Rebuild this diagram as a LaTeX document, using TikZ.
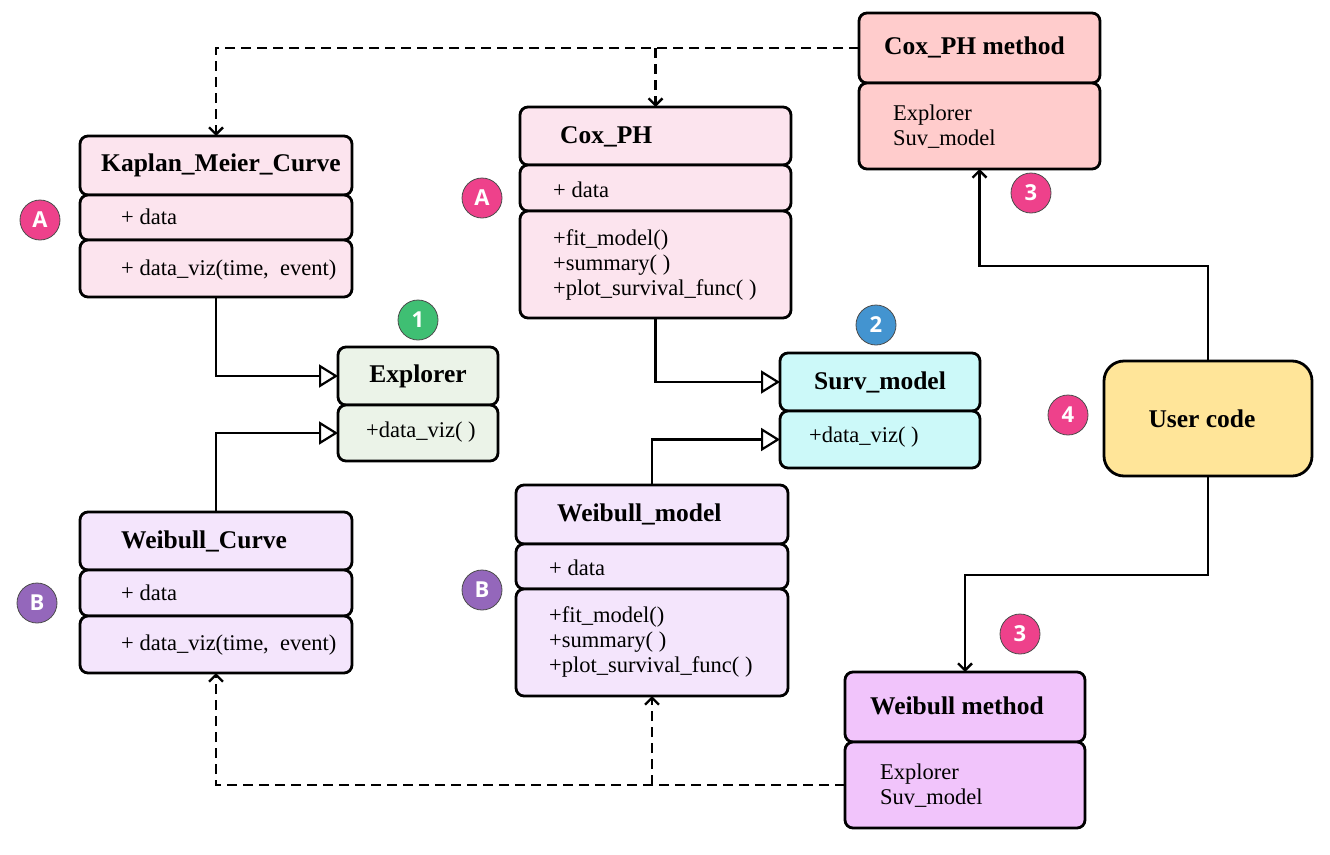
\documentclass[tikz,border=0pt]{standalone}
\usepackage{fontspec}
\setmainfont{Liberation Serif}
\newfontfamily\badgefont{Open Sans}
\usetikzlibrary{arrows.meta}
\definecolor{kmpink}{HTML}{FCE4EE}
\definecolor{coxmeth}{HTML}{FFCCCC}
\definecolor{explgreen}{HTML}{EBF3E8}
\definecolor{survcyan}{HTML}{CCF9F9}
\definecolor{useryellow}{HTML}{FFE599}
\definecolor{weilav}{HTML}{F4E5FC}
\definecolor{weimeth}{HTML}{F1C4FB}
\definecolor{bpink}{HTML}{EE418B}
\definecolor{bgreen}{HTML}{3FBF73}
\definecolor{bblue}{HTML}{4394D0}
\definecolor{bpurple}{HTML}{9467BB}
\begin{document}
\begin{tikzpicture}[x=1pt,y=-1pt,
  box/.style={draw, line width=2.8pt, rounded corners=8pt, inner sep=0pt, outer sep=0pt, anchor=north west},
  ttl/.style={anchor=west, font=\fontsize{25.5}{30}\selectfont\bfseries, inner sep=0pt},
  txt/.style={anchor=west, font=\fontsize{22.5}{25}\selectfont, align=left, inner sep=0pt},
  badge/.style={circle, draw=black!70, line width=0.8pt, minimum size=40pt, inner sep=0pt, text=white, font=\badgefont\fontsize{22}{22}\selectfont\bfseries},
  gen/.style={line width=2.8pt, -{Triangle[length=19pt,width=23pt,fill=white,line width=2.2pt]}},
  dep/.style={line width=2.8pt, dash pattern=on 10pt off 6pt, -{Straight Barb[length=7pt,width=14pt,line width=2.4pt]}},
  assoc/.style={line width=2.8pt, -{Straight Barb[length=7pt,width=14pt,line width=2.4pt]}}
]
\useasboundingbox (0,0) rectangle (1330,854);

% Kaplan_Meier_Curve
\node[box, fill=kmpink, minimum width=272pt, minimum height=59pt] (km1) at (80,136) {};
\node[box, fill=kmpink, minimum width=272pt, minimum height=45pt] (km2) at (80,195) {};
\node[box, fill=kmpink, minimum width=272pt, minimum height=57pt] (km3) at (80,240) {};
\node[ttl] (kmt) at (101,165) {Kaplan\_Meier\_Curve};
\node[txt] (kmd) at (121,217) {+ data};
\node[txt] (kmv) at (121,270) {+ data\_viz(time,\ \ event)};

% Cox_PH
\node[box, fill=kmpink, minimum width=271pt, minimum height=58pt] (cox1) at (520,107) {};
\node[box, fill=kmpink, minimum width=271pt, minimum height=46pt] (cox2) at (520,165) {};
\node[box, fill=kmpink, minimum width=271pt, minimum height=107pt] (cox3) at (520,211) {};
\node[ttl] (coxt) at (560,137) {Cox\_PH};
\node[txt] (coxd) at (553,190) {+ data};
\node[txt] (coxm) at (553,265) {+fit\_model()\\+summary(\ )\\+plot\_survival\_func(\ )};

% Cox_PH method
\node[box, fill=coxmeth, minimum width=241pt, minimum height=70pt] (cm1) at (859,13) {};
\node[box, fill=coxmeth, minimum width=241pt, minimum height=86pt] (cm2) at (859,83) {};
\node[ttl] (cmt) at (884,47) {Cox\_PH method};
\node[txt] (cmb) at (893,127) {Explorer\\Suv\_model};

% Explorer
\node[box, fill=explgreen, minimum width=160pt, minimum height=58pt] (ex1) at (338,347) {};
\node[box, fill=explgreen, minimum width=160pt, minimum height=56pt] (ex2) at (338,405) {};
\node[anchor=center, font=\fontsize{25.5}{30}\selectfont\bfseries, inner sep=0pt] (ext) at (418,376) {Explorer};
\node[txt] (exv) at (366,432) {+data\_viz(\ )};

% Surv_model
\node[box, fill=survcyan, minimum width=200pt, minimum height=58pt] (sv1) at (780,353) {};
\node[box, fill=survcyan, minimum width=200pt, minimum height=57pt] (sv2) at (780,411) {};
\node[anchor=center, font=\fontsize{25.5}{30}\selectfont\bfseries, inner sep=0pt] (svt) at (880,382) {Surv\_model};
\node[txt] (svv) at (809,437) {+data\_viz(\ )};

% User code
\node[draw, line width=2.8pt, rounded corners=20pt, fill=useryellow, minimum width=208pt, minimum height=115pt, anchor=north west, outer sep=0pt] (uc) at (1104,361) {};
\node[anchor=center, font=\fontsize{25.5}{30}\selectfont\bfseries, inner sep=0pt] (uct) at (1202,419) {User code};

% Weibull_Curve
\node[box, fill=weilav, minimum width=272pt, minimum height=58pt] (wc1) at (80,512) {};
\node[box, fill=weilav, minimum width=272pt, minimum height=46pt] (wc2) at (80,570) {};
\node[box, fill=weilav, minimum width=272pt, minimum height=57pt] (wc3) at (80,616) {};
\node[ttl] (wct) at (121,541) {Weibull\_Curve};
\node[txt] (wcd) at (121,593) {+ data};
\node[txt] (wcv) at (121,645) {+ data\_viz(time,\ \ event)};

% Weibull_model
\node[box, fill=weilav, minimum width=272pt, minimum height=59pt] (wm1) at (516,485) {};
\node[box, fill=weilav, minimum width=272pt, minimum height=45pt] (wm2) at (516,544) {};
\node[box, fill=weilav, minimum width=272pt, minimum height=107pt] (wm3) at (516,589) {};
\node[ttl] (wmt) at (557,514) {Weibull\_model};
\node[txt] (wmd) at (549,568) {+ data};
\node[txt] (wmm) at (549,642) {+fit\_model()\\+summary(\ )\\+plot\_survival\_func(\ )};

% Weibull method
\node[box, fill=weimeth, minimum width=240pt, minimum height=70pt] (wt1) at (845,672) {};
\node[box, fill=weimeth, minimum width=240pt, minimum height=86pt] (wt2) at (845,742) {};
\node[ttl] (wtt) at (870,706) {Weibull method};
\node[txt] (wtb) at (880,786) {Explorer\\Suv\_model};

% badges
\node[badge, fill=bpink] (bA1) at (40,220) {A};
\node[badge, fill=bpink] (bA2) at (482,198) {A};
\node[badge, fill=bgreen] (b1) at (418,320) {1};
\node[badge, fill=bblue] (b2) at (876,325) {2};
\node[badge, fill=bpink] (b3a) at (1031,193) {3};
\node[badge, fill=bpink] (b4) at (1068,415) {4};
\node[badge, fill=bpink] (b3b) at (1020,634) {3};
\node[badge, fill=bpurple] (bB1) at (37,603) {B};
\node[badge, fill=bpurple] (bB2) at (482,590) {B};

% generalisation connectors
\draw[gen] (km3.south) |- (ex1.west);
\draw[gen] (wc1.north) |- (ex2.west);
\draw[gen] (cox3.south) |- (sv1.west);
\draw[gen] (wm1.north) |- (sv2.west);

% dependency connectors
\draw[dep] (cm1.west) -| (km1.north);
\draw[dep] (cm1.west -| cox1.north) -- (cox1.north);
\draw[dep] (wt2.west) -| (wc3.south);
\draw[dep] (wt2.west -| wm3.south) -- (wm3.south);

% user code connectors
\coordinate (k1) at (1208,266);
\coordinate (k2) at (1208,575);
\draw[assoc] (uc.north) -- (uc.north |- k1) -| (cm2.south);
\draw[assoc] (uc.south) -- (uc.south |- k2) -| (wt1.north);
\end{tikzpicture}
\end{document}
